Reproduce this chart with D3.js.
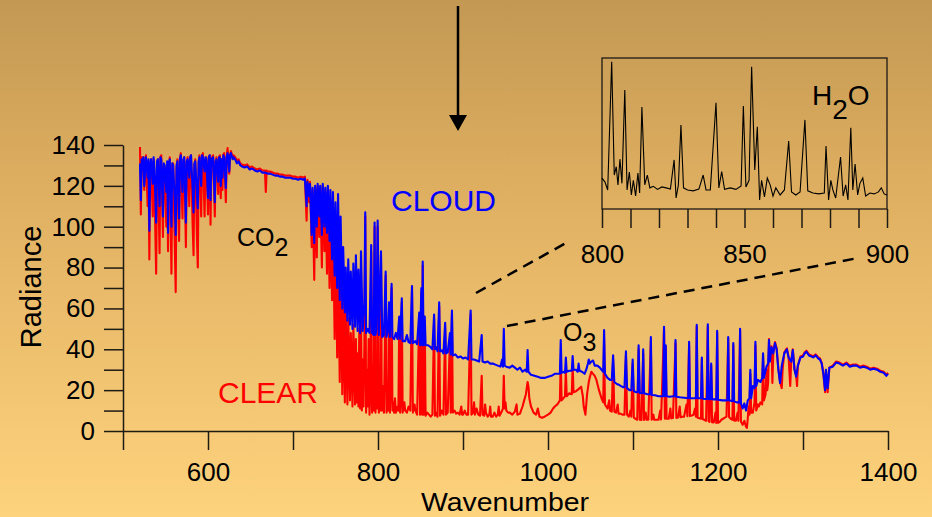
<!DOCTYPE html>
<html>
<head>
<meta charset="utf-8">
<script src="https://cdn.jsdelivr.net/npm/d3@7"></script>
<style>
  body { margin: 0; }
  svg text { font-family: "Liberation Sans", Arial, Helvetica, sans-serif; }
</style>
</head>
<body>
<svg id="chart" width="932" height="517"></svg>
<script>
// ---- data (wavenumber, radiance) ----
var cloud = [
  [520,131],[521,113],[522,133],[523,128],[524,134],[525,120],[527,134],[529,124],[530,133],[531,98],[532,130],[533,133],
  [535,121],[536,134],[537,128],[539,102],[540,132],[541,133],[543,110],[544,134],[545,133],[547,105],[548,131],[549,130],
  [551,117],[552,132],[553,97],[554,131],[555,133],[557,100],[558,131],[559,130],[561,112],[562,96],[563,130],[564,132],
  [566,104],[567,133],[568,135],[570,117],[571,133],[572,134],[574,102],[575,132],[576,133],[578,124],[579,134],[580,135],
  [582,118],[583,107],[584,131],[585,132],[587,115],[588,109],[589,132],[590,134],[592,120],[593,135],[594,134],[596,127],
  [597,134],[598,133],[600,114],[601,134],[602,135],[603,113],[604,133],[606,134],[608,112],[609,132],[610,133],[612,122],
  [613,134],[614,134],[615,120],[616,133],[617,124],[618,135],[619,134],[621,119],[622,134],[623,136],[624,133],[625,127],
  [626,135],[627,136],[629,133],[630,134],[632,133],[634,131],[636,132],[638,130],[640,129.5],[643,129],[646,129.5],
  [649,128],[652,128.5],[655,127.5],[658,127],[661,127.5],[664,126.5],[667,126.5],[670,126],[673,126],[676,125.5],
  [679,125],[682,125],[685,124.5],[688,124.5],[691,124],[694,124],[697,124],[700,123.5],[703,123.5],[706,123],
  [709,123.5],[712,123],[714,123.5],[716,110],[717,122],[719,115],[720,121],[722,96],[723,119],[725,92],[726,120],
  [728,100],[729,121],[731,105],[732,120],[734,96],[735,121],[737,100],[738,119],[740,97],[741,120],[743,93],[744,118],
  [746,84],[747,117],[749,76],[750,112],[752,70],[753,116],[755,64],[756,105],[758,60],[759,90],[761,58],[762,80],
  [764,54],[765,84],[767,52],[768,78],[770,50],[771,82],[773,51],[774,86],[776,49],[777,79],[779,48],[780,88],[782,49],
  [784,62],[785,107],[786,48],[788,50],[790,48],[792,91],[793,48],[795,47],[796,102],[797,47],[798,49],[799.6,103],
  [801,47],[803.5,88],[805,46],[807,47],[809,78],[810,46],[812,50],[813,63],[814,46],[816,72],[817,46],[819,45],[821,48],
  [823,45],[825,56],[826,45],[828,65],[829,44],[832,44],[834,47],[836,43.5],[838,43],[840,71],[841,43],[844,44],
  [846,42.5],[848.5,58],[849.5,42],[851,70],[852,42],[852.6,83],[853.6,42],[855,56],[856,42],[859,42],[862,41],[864,40],
  [866,57],[867,40],[869,41],[870,39],[872,63],[873,39],[875,39.5],[877,38],[879,53],[880,38],[882,38.5],[884.7,48],
  [885.5,37.5],[887,59],[888,37],[891,37.5],[894,36],[897,36.5],[900,35.5],[903,36],[906,35],[909,59],[910,35],[913,35],
  [916,34.5],[919,34],[922,47],[923,34],[926,33.5],[929,34],[932,33],[935,33],[938,32.5],[941,32],[944,31.5],[946,35],
  [947,31.5],[948,50],[949,32],[951,31.5],[955,31],[958,32],[961,31],[964,30],[967,31],[970,29],[973,30],[975,29],
  [976,39.6],[977,29],[980,27.5],[984,27],[988,26.5],[992,26],[996,26],[1000,26.5],[1004,27],[1008,28],[1012,28],
  [1014,28],[1015,44.5],[1016,28.5],[1019,29],[1020,28.5],[1021,36],[1022,29],[1025,29.5],[1028,29.5],[1029,36.7],
  [1030,30],[1033,30],[1035,29],[1036,33],[1037,29.5],[1040,29],[1043,28],[1045,30],[1047,33],[1048,35],[1049,33],
  [1051,34],[1053,34.5],[1055,32],[1058,32],[1061,31],[1063,30],[1065,29],[1066,49.4],[1067,28],[1070,26],[1073,25],
  [1075,25],[1076.6,37],[1078,24],[1081,23],[1084,22.5],[1088,21.5],[1090,21.5],[1091.7,39],[1093,21],[1096,20],
  [1098,20],[1099.6,35],[1101,19.5],[1104,19],[1105.5,19],[1106.6,42],[1108,18.6],[1111,18.5],[1112,40],[1113,18.5],
  [1117,18],[1120,18],[1121,46],[1122,17.6],[1126,17.5],[1130,17],[1135.5,17],[1136.5,51],[1137.5,17],[1138.5,42],
  [1139.5,17],[1143,16.8],[1147,17],[1149,17],[1150,44.5],[1151,16.8],[1155,16.5],[1160,16.3],[1165,16],[1166,43.7],
  [1167,16],[1171,16],[1174,16],[1175,52],[1176,16],[1180,16],[1181,36],[1182,15.8],[1185,15.7],[1187,15.7],[1188,52.2],
  [1189,15.6],[1191,15.6],[1192,33],[1193,15.6],[1196,15.5],[1198,15.4],[1199,49],[1200,15.3],[1205,15],[1208,15],
  [1211,15],[1212,46],[1213,15],[1215,14.8],[1217,14.6],[1218,43],[1219,14.5],[1222,14],[1225,14],[1226,50],[1227,13.6],
  [1229,11],[1231,13.5],[1233,10],[1235,15],[1237,16],[1238,30],[1239,16],[1241,22],[1243,21],[1244,43.7],[1245,22],
  [1247,25],[1250,24],[1252,26],[1253,38],[1254,26],[1257,31.5],[1259,33],[1260,44.5],[1261,34],[1263,41],[1265,38],
  [1267,43],[1269,40],[1271,30],[1273,23.5],[1275,32],[1278,38],[1281,40],[1283,36],[1286,34],[1288,39.6],[1290,30],
  [1292,26.6],[1294,32],[1297,36],[1300,36.4],[1302,38],[1304,38.8],[1307,37],[1310,36.5],[1312,36],[1315,37],
  [1318,35.5],[1320,35],[1322,33],[1324,28],[1326,20],[1327,30],[1329,21],[1331,31],[1335,31.5],[1339,33.5],[1343,33],
  [1347,32],[1351,33],[1355,31.5],[1359,32],[1363,32],[1367,31],[1371,31.5],[1375,31],[1379,30],[1383,30.5],[1387,30],
  [1391,29],[1395,28.5],[1398,27],[1400,28]
];

var clear = [
  [520,139],[521,106],[522,134],[523,127],[524,134],[525,118],[527,135],[529,110],[530,131],[531,84],[532,128],[533,133],
  [535,105],[536,133],[537,120],[539,77],[540,128],[541,133],[543,87],[544,134],[545,135],[547,95],[548,130],[549,129],
  [551,100],[552,130],[553,88],[554,128],[555,134],[557,77],[558,130],[559,131],[561,90],[562,68],[563,128],[564,133],
  [566,93],[567,133],[568,136],[570,104],[571,132],[572,134],[574,90],[575,131],[576,134],[578,110],[579,133],[580,135],
  [582,100],[583,86],[584,130],[585,133],[587,95],[588,80],[589,131],[590,135],[592,105],[593,134],[594,136],[596,105],
  [597,133],[598,134],[600,106],[601,133],[602,135],[603,101],[604,133],[606,135],[608,105],[609,132],[610,134],[612,116],
  [613,134],[614,135],[615,114],[616,133],[617,118],[618,135],[619,136],[621,112],[622,134],[623,138.5],[624,134],
  [625,126],[626,135],[627,137],[629,134],[630,135],[632,134],[634,132.5],[636,133],[638,131],[640,130.5],[643,130],
  [646,130.5],[649,129],[652,129.5],[655,128.5],[658,128],[661,128.5],[664,127.5],[667,127.5],[668,117],[669,127.5],
  [670,127],[673,127],[676,126.5],[679,126],[682,126],[685,125.5],[688,125.5],[691,125],[694,125],[697,125],[700,124.5],
  [703,124.5],[706,124],[709,124.5],[712,124],[714,124.5],[716,103],[717,123],[719,112],[720,122],[722,90],[723,118],
  [725,74],[726,119],[728,85],[729,120],[731,95],[732,119],[734,80],[735,120],[737,88],[738,118],[740,77],[741,117],
  [743,70],[744,110],[746,64],[747,106],[749,45],[750,95],[752,36],[753,90],[755,24],[756,80],[758,18],[759,70],[761,14],
  [762,60],[764,13],[765,55],[767,15],[768,48],[770,12],[771,52],[773,13],[774,45],[775,14],[776,38],[777,12],[778,50],
  [779,11],[780,60],[781,10],[782,35],[783,12],[784,42],[785,105],[786,9],[787,30],[788,12],[789,45],[790,8],[791,20],
  [792,88],[793,9],[794,32],[795,10],[796,100],[797,9],[798,25],[799,11],[799.6,100],[801,9],[802,28],[803,10],
  [803.5,86],[804.5,10],[806,22],[807,9],[808,40],[809,76],[810,9],[811,18],[812,10],[813,60],[814,9],[815,22],[816,70],
  [817,10],[818,14],[819,9],[820,16],[821,9],[823,12],[824,10],[825,54],[826,9],[827,15],[828,63],[829,9],[831,14],
  [832,10],[834,9],[836,12],[838,10],[840,69],[841,9],[843,13],[844,10],[846,8],[848.5,56],[849.5,8],[851,68],[852,8],
  [852.6,81],[853.6,8],[855,54],[856,7.5],[858,9],[860,8],[862,7],[864,8],[866,55],[867,7.5],[869,9],[870,7],[872,61],
  [873,7.5],[875,10],[877,8],[879,51],[880,8],[882,9],[884.7,46],[885.5,9],[887,57],[888,9],[890,10],[892,8.5],[894,9],
  [896,8],[898,12],[899,8],[900,8],[902,10],[904,8],[906,8],[909,57],[910,8],[912,9],[913,14],[914,8],[916,11],[918,8],
  [920,7.5],[922,27],[923,8],[925,7.5],[926,13],[927,9],[929,7],[931,8],[932,12],[933,7],[935,7],[937,9],[939,7],
  [941,8],[942,12],[943,7.5],[945,9],[947,11],[948,27],[949,11],[950,14],[951,10],[953,9],[955,9],[958,8],[961,9.5],
  [963,13],[964,8],[967,8.5],[970,12],[972,15],[974,18],[976,24],[977,21.7],[978,16],[980,12],[983,9],[986,8],[988,11],
  [990,7],[993,6.5],[996,7],[1000,8],[1003,9],[1006,11],[1008,12],[1011,13],[1014,15],[1015,35],[1016,15],[1018,16],
  [1020,17],[1021,30],[1022,17],[1025,18.5],[1028,18],[1029,32],[1030,19],[1033,19.5],[1036,20.5],[1039,21.7],
  [1041,17],[1042,12],[1044,8],[1046,18],[1048,24],[1049,26],[1051,29],[1053,28],[1055,27],[1057,25],[1060,20],
  [1063,16],[1065,14],[1066,45],[1067,13],[1070,11],[1072,15],[1073,10],[1075,9.5],[1076.6,35],[1078,9.5],[1080,9],
  [1082,13],[1083,8.5],[1085,8.5],[1088,8],[1090,8],[1091.7,37],[1093,8],[1095,7],[1097,10],[1098,7],[1099.6,33],
  [1101,6.5],[1103,6],[1105,5.5],[1106.6,40],[1108,5.5],[1110,5.4],[1112,38],[1113,5.4],[1115,9],[1116,5.5],[1118,5.5],
  [1121,44],[1122,5.5],[1124,8],[1125,5.5],[1128,5.5],[1130,5.5],[1132,10],[1133,5.6],[1136.5,50],[1137.5,6],
  [1138.5,41],[1139.5,6],[1142,6],[1144,11],[1145,6.2],[1147,6.4],[1150,43],[1151,6.4],[1153,6.6],[1155,12],[1156,6.7],
  [1158,7],[1160,7],[1163,13],[1164,7.2],[1166,42],[1167,7.3],[1169,7.6],[1171,7.8],[1173,11],[1174,7],[1175,51],
  [1176,6.5],[1178,6.3],[1180,6],[1181,35],[1182,5.8],[1184,5.5],[1186,5],[1188,51],[1189,4.8],[1190,4.5],[1192,32],
  [1193,4.3],[1195,4.2],[1197,9],[1198,4],[1199,48],[1200,4],[1202,4.5],[1204,5.5],[1206,6],[1208,6.5],[1210,7],
  [1212,45],[1213,6.8],[1215,6],[1217,5.5],[1218,42],[1219,5.2],[1221,5],[1223,9],[1224,5],[1226,49],[1227,4.6],
  [1229,3],[1231,5],[1233,2],[1234,1.5],[1235,6],[1236,12],[1237,8],[1238,28],[1239,9],[1241,9],[1243,14],[1244,42],
  [1245,10],[1247,13],[1248,12],[1250,14],[1252,13],[1253,37],[1254,15],[1256,18],[1257,30],[1258,20],[1259,23.5],
  [1260,45],[1261,34.5],[1263,41.5],[1264,23.5],[1265,38.5],[1267,43.5],[1269,40.5],[1271,30.5],[1273,24],[1275,21],
  [1276,30],[1278,38.5],[1281,40.5],[1283,36.5],[1285,22],[1286,33],[1288,40],[1290,30.5],[1292,27],[1293,22],
  [1294,32],[1297,36.5],[1300,37],[1302,38.5],[1304,39.3],[1307,37.5],[1310,37],[1312,36.5],[1315,37.5],[1318,36],
  [1320,35.5],[1322,33.5],[1324,28],[1326,19],[1327,30],[1329,19],[1331,31],[1335,32],[1339,34],[1343,33.5],
  [1347,32.5],[1351,33.5],[1355,32],[1359,32.5],[1363,32.5],[1367,31.5],[1371,32],[1375,31.5],[1379,30.5],[1383,31],
  [1387,30.5],[1391,29.5],[1395,29],[1398,27.5],[1400,28.5]
];

// inset: H2O lines 800-900 (relative units, 0-100 = box height)
var insetH2O = [
  [800,20.5],[801,18],[802,12.6],[803.4,97.5],[804.3,22.5],[805,28],[805.6,16],[806.3,33],[807,17],[808,78.8],
  [808.8,12.6],[809.6,24.5],[810.3,9.3],[811,19],[811.8,8.6],[812.6,23.8],[813.2,10.6],[814,67.5],[815,16],
  [815.9,22.5],[816.8,14],[818,15],[819.5,13],[821,14.6],[822.5,14],[824,13.2],[825.3,32.5],[826,7.3],[826.8,16],
  [827.7,55.6],[828.6,14],[830,12.6],[832,12],[834,13.2],[835.5,22.5],[836.5,12.6],[838,12.6],[840,70.4],[841,14],
  [842,24.7],[843,13],[845,14],[847,13],[848.8,15.2],[849.6,68.2],[850.5,14.6],[851.6,19],[852.5,94.2],[853.6,25.8],
  [854.5,54.5],[855.3,6],[856,19],[857,8],[858,20.5],[859,16],[860,8.6],[861,14],[862.5,9.3],[864,12.6],[865.5,45],
  [866.5,11.3],[868,9.3],[869.5,11.3],[871.2,59],[872.2,12],[874,10.6],[876,10],[878,10.6],[878.6,41.7],[879.5,6],
  [880.3,19],[881,12.6],[882,7.3],[883.7,34.4],[884.6,8.6],[885.5,16],[886.3,6],[887.3,53.8],[888,12.6],[888.8,29.8],
  [889.7,9.3],[890.5,17],[891.5,20.5],[892.5,8.6],[894,10.6],[895.5,10],[897,11.3],[898,14],[899,10],[900,9.3]
];

var xTicks = [500,600,700,800,900,1000,1100,1200,1300,1400];
var xLabels = [600,800,1000,1200,1400];
var yTicks = [0,10,20,30,40,50,60,70,80,90,100,110,120,130,140];
var yLabels = [0,20,40,60,80,100,120,140];
var insetTicks = [800,810,820,830,840,850,860,870,880,890,900];
var insetLabels = [800,850,900];

// ---- drawing ----
var width = 932, height = 517;
var svg = d3.select("#chart");

var grad = svg.append("defs").append("linearGradient")
    .attr("id", "bg").attr("x1", 0).attr("y1", 0).attr("x2", 0).attr("y2", 1);
grad.append("stop").attr("offset", "0%").attr("stop-color", "#c29853");
grad.append("stop").attr("offset", "35%").attr("stop-color", "#deae60");
grad.append("stop").attr("offset", "100%").attr("stop-color", "#fed37d");
svg.append("rect").attr("width", width).attr("height", height).attr("fill", "url(#bg)");

var x = d3.scaleLinear().domain([500, 1400]).range([123, 888]);
var y = d3.scaleLinear().domain([0, 140]).range([431, 145]);

var line = d3.line().x(function(d) { return x(d[0]); }).y(function(d) { return y(d[1]); });

svg.append("path").datum(clear)
    .attr("d", line).attr("fill", "none")
    .attr("stroke", "#ff0000").attr("stroke-width", 2.1).attr("stroke-linejoin", "round");
svg.append("path").datum(cloud)
    .attr("d", line).attr("fill", "none")
    .attr("stroke", "#0000ff").attr("stroke-width", 2.1).attr("stroke-linejoin", "round");

function styleAxis(g, size) {
  g.selectAll("path, line").attr("stroke", "#1e1a14").attr("stroke-width", 1.5);
  g.selectAll("text").attr("font-size", size).attr("fill", "#000")
    .attr("font-family", "'Liberation Sans', Arial, sans-serif");
}

var gx = svg.append("g").attr("transform", "translate(0,431)")
    .call(d3.axisBottom(x).tickValues(xTicks).tickSize(19).tickSizeOuter(0).tickPadding(13)
      .tickFormat(function(d) { return xLabels.indexOf(d) >= 0 ? d : ""; }));
styleAxis(gx, 26);

var gy = svg.append("g").attr("transform", "translate(123,0)")
    .call(d3.axisLeft(y).tickValues(yTicks).tickSize(19).tickSizeOuter(0).tickPadding(9)
      .tickFormat(function(d) { return yLabels.indexOf(d) >= 0 ? d : ""; }));
styleAxis(gy, 26);

svg.append("text").attr("x", 505).attr("y", 511).attr("text-anchor", "middle")
    .attr("font-size", 26).attr("textLength", 168).attr("lengthAdjust", "spacingAndGlyphs")
    .text("Wavenumber");
svg.append("text").attr("transform", "translate(41,287) rotate(-90)")
    .attr("text-anchor", "middle").attr("font-size", 29).text("Radiance");

// inset
var xi = d3.scaleLinear().domain([800, 900]).range([602, 887]);
var yi = d3.scaleLinear().domain([0, 100]).range([209, 58]);
svg.append("rect").attr("x", 602).attr("y", 58).attr("width", 285).attr("height", 151)
    .attr("fill", "none").attr("stroke", "#1e1a14").attr("stroke-width", 1.3);
svg.append("path").datum(insetH2O)
    .attr("d", d3.line().x(function(d) { return xi(d[0]); }).y(function(d) { return yi(d[1]); }))
    .attr("fill", "none").attr("stroke", "#000").attr("stroke-width", 1.1);
var gi = svg.append("g").attr("transform", "translate(0,209)")
    .call(d3.axisBottom(xi).tickValues(insetTicks).tickSize(19).tickSizeOuter(0).tickPadding(17)
      .tickFormat(function(d) { return insetLabels.indexOf(d) >= 0 ? d : ""; }));
styleAxis(gi, 26);
gi.select(".domain").remove();

var h2o = svg.append("text").attr("x", 812).attr("y", 105).attr("font-size", 28);
h2o.append("tspan").text("H");
h2o.append("tspan").attr("dy", 14).text("2");
h2o.append("tspan").attr("dy", -14).text("O");

// annotations
svg.append("line").attr("x1", 476).attr("y1", 293).attr("x2", 566).attr("y2", 243)
    .attr("stroke", "#000").attr("stroke-width", 2.5).attr("stroke-dasharray", "11,7");
svg.append("line").attr("x1", 507).attr("y1", 326).attr("x2", 858).attr("y2", 258)
    .attr("stroke", "#000").attr("stroke-width", 2.5).attr("stroke-dasharray", "11,7");

svg.append("line").attr("x1", 458).attr("y1", 6).attr("x2", 458).attr("y2", 118)
    .attr("stroke", "#000").attr("stroke-width", 2.5);
svg.append("path").attr("d", "M449,115 L467,115 L458,131 Z").attr("fill", "#000");

svg.append("text").attr("x", 391).attr("y", 211).attr("font-size", 30).attr("fill", "#0000ff").text("CLOUD");
svg.append("text").attr("x", 218).attr("y", 403).attr("font-size", 30).attr("fill", "#ff0000").text("CLEAR");

var co2 = svg.append("text").attr("x", 237).attr("y", 246).attr("font-size", 25);
co2.append("tspan").text("CO");
co2.append("tspan").attr("dy", 10).text("2");

var o3 = svg.append("text").attr("x", 563).attr("y", 341).attr("font-size", 25);
o3.append("tspan").text("O");
o3.append("tspan").attr("dy", 10).text("3");
</script>
</body>
</html>
